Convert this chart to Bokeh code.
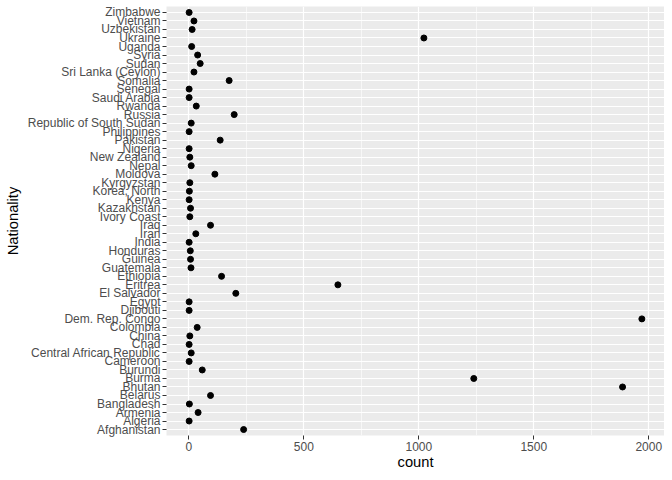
from bokeh.plotting import figure
from bokeh.models import FactorRange, Range1d, FixedTicker, ColumnDataSource
from bokeh.embed import file_html
from bokeh.resources import INLINE

nationality = [
    "Afghanistan", "Algeria", "Armenia", "Bangladesh", "Belarus", "Bhutan", "Burma",
    "Burundi", "Cameroon", "Central African Republic", "Chad", "China", "Colombia",
    "Dem. Rep. Congo", "Djibouti", "Egypt", "El Salvador", "Eritrea", "Ethiopia",
    "Guatemala", "Guinea", "Honduras", "India", "Iran", "Iraq", "Ivory Coast",
    "Kazakhstan", "Kenya", "Korea, North", "Kyrgyzstan", "Moldova", "Nepal",
    "New Zealand", "Nigeria", "Pakistan", "Philippines", "Republic of South Sudan",
    "Russia", "Rwanda", "Saudi Arabia", "Senegal", "Somalia", "Sri Lanka (Ceylon)",
    "Sudan", "Syria", "Uganda", "Ukraine", "Uzbekistan", "Vietnam", "Zimbabwe",
]
count = [
    238, 1, 40, 2, 94, 1886, 1239,
    58, 1, 10, 1, 4, 36,
    1970, 1, 1, 204, 648, 142,
    9, 7, 6, 1, 30, 94, 4,
    7, 1, 2, 4, 113, 10,
    4, 1, 136, 1, 10,
    197, 32, 1, 1, 175, 22,
    49, 38, 12, 1022, 14, 22, 1,
]
x_major = [0, 500, 1000, 1500, 2000]
x_minor = [250, 750, 1250, 1750]

FONT = "Liberation Sans"

lo, hi = min(count), max(count)
pad = 0.05 * (hi - lo)

src = ColumnDataSource(dict(nat=nationality, n=count))

p = figure(
    width=664, height=472, output_backend="svg", toolbar_location=None,
    y_range=FactorRange(factors=nationality, range_padding=0.2, range_padding_units="absolute"),
    x_range=Range1d(lo - pad, hi + pad),
    min_border_left=166, min_border_right=0, min_border_top=6, min_border_bottom=36,
)
p.background_fill_color = "#EBEBEB"
p.border_fill_color = "white"
p.outline_line_color = None

p.scatter(x="n", y="nat", source=src, size=6, color="black")

p.xaxis.ticker = FixedTicker(ticks=x_major, minor_ticks=x_minor)
p.xgrid.grid_line_color = "white"
p.xgrid.grid_line_width = 1.2
p.xgrid.minor_grid_line_color = "white"
p.xgrid.minor_grid_line_width = 0.6
p.ygrid.grid_line_color = "white"
p.ygrid.grid_line_width = 1.2

for ax in (p.xaxis[0], p.yaxis[0]):
    ax.axis_line_color = None
    ax.minor_tick_line_color = None
    ax.major_tick_line_color = "#333333"
    ax.major_tick_out = 4
    ax.major_tick_in = 0
    ax.major_label_text_color = "#4D4D4D"
    ax.major_label_text_font = FONT
    ax.major_label_text_font_size = "12px"
    ax.major_label_standoff = 2
    ax.axis_label_text_font = FONT
    ax.axis_label_text_font_style = "normal"
    ax.axis_label_text_font_size = "14.7px"
    ax.axis_label_text_color = "black"

p.xaxis.axis_label = "count"
p.yaxis.axis_label = "Nationality"
p.xaxis.axis_label_standoff = 0
p.yaxis.axis_label_standoff = 4

open("out.html", "w").write(file_html(p, INLINE))
